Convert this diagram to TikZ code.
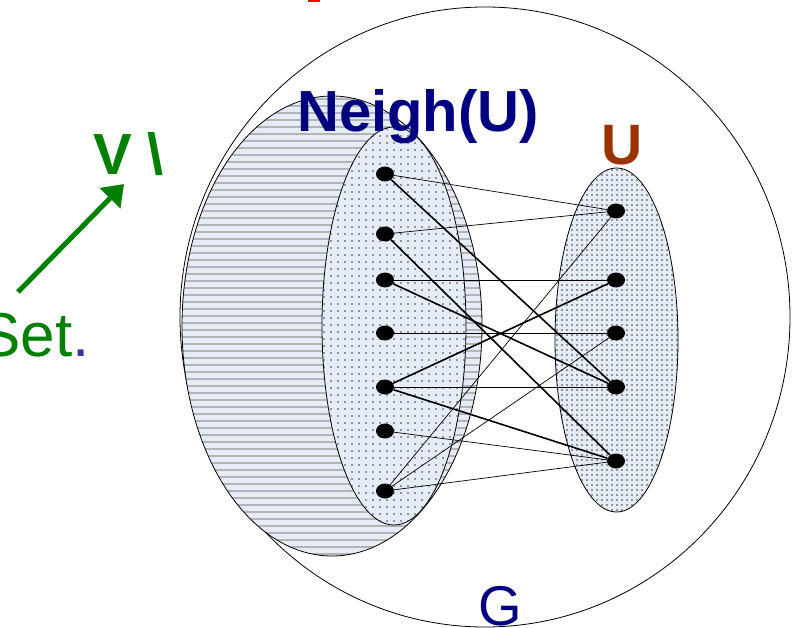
\documentclass[tikz,border=0pt]{standalone}
\usepackage{fontspec}
\setmainfont{Liberation Sans}
\usepackage{tikz}
\usetikzlibrary{positioning,arrows.meta,shapes.geometric}
\definecolor{hallnavy}{HTML}{000080}
\definecolor{hallgreen}{HTML}{008000}
\definecolor{hallbrown}{HTML}{993300}
\definecolor{hallred}{HTML}{FF0000}
\definecolor{halldot}{HTML}{333399}
\definecolor{hallfill}{HTML}{E6ECF7}
\definecolor{hallstripe}{HTML}{B4B4B4}
\definecolor{hallspeck}{HTML}{3C3C3C}

\begin{document}
\begin{tikzpicture}[x=1pt,y=-1pt,
    vtx/.style={ellipse,fill=black,minimum width=18pt,minimum height=15pt,inner sep=0pt},
    thinedge/.style={line width=0.7pt},
    boldedge/.style={line width=1.6pt},
    speck/.style={fill=hallspeck},
    lab/.style={inner sep=0pt,anchor=base west}]
  \clip (0,0) rectangle (794,628);
  \draw[line width=0.8pt] (485,317) ellipse [x radius=305pt,y radius=310pt];

  \fill[hallfill] (332,326) ellipse [x radius=150pt,y radius=230pt];
  \begin{scope}
    \clip (332,326) ellipse [x radius=150pt,y radius=230pt];
    \foreach \y in {99,106,...,556}
      \draw[hallstripe,line width=1.6pt] (180,\y) -- (485,\y);
  \end{scope}
  \draw[line width=0.8pt] (332,326) ellipse [x radius=150pt,y radius=230pt];

  \fill[hallfill] (394,326) ellipse [x radius=72pt,y radius=199pt];
  \begin{scope}
    \clip (394,326) ellipse [x radius=72pt,y radius=199pt];
    \foreach \x in {324,331,...,466}
      \foreach \y in {129,136,...,524}
        \fill[speck] (\x,\y) circle [radius=0.95pt];
  \end{scope}
  \draw[line width=0.8pt] (394,326) ellipse [x radius=72pt,y radius=199pt];

  \fill[hallfill] (616.5,340) ellipse [x radius=61.5pt,y radius=172pt];
  \begin{scope}
    \clip (616.5,340) ellipse [x radius=61.5pt,y radius=172pt];
    \foreach \x in {557,562,...,678}
      \foreach \y in {170,175,...,512}
        \fill[speck] (\x,\y) circle [radius=0.9pt];
  \end{scope}
  \draw[line width=0.8pt] (616.5,340) ellipse [x radius=61.5pt,y radius=172pt];

  \foreach \y [count=\i] in {174,234,280,333,387,431,491}
    \node[vtx] (nb\i) at (385,\y) {};
  \foreach \y [count=\i] in {211,280,333,387,461}
    \node[vtx] (u\i) at (616,\y) {};
  \foreach \a/\b in {1/1,2/1,3/2,4/3,5/4,6/5,7/1,7/3,7/5}
    \draw[thinedge] (nb\a) -- (u\b);
  \foreach \a/\b in {1/4,2/5,3/4,5/2,5/5}
    \draw[boldedge] (nb\a) -- (u\b);

  \node[lab,font=\fontsize{58}{60}\selectfont\bfseries,text=hallnavy] (neighlab) at (297,132) {Neigh(U)};
  \node[lab,font=\fontsize{57}{60}\selectfont\bfseries,text=hallbrown] (ulab) at (601,165) {U};
  \node[lab,font=\fontsize{58}{60}\selectfont\bfseries,text=hallgreen] (vlab) at (93,175) {V \textbackslash};
  \node[lab,font=\fontsize{62}{64}\selectfont,text=hallgreen] (setlab) at (-21,356) {Set{\color{halldot}.}};
  \node[inner sep=0pt,anchor=base,font=\fontsize{56}{58}\selectfont,text=hallnavy] (glab) at (500,625) {G};
  \coordinate (arrtail) at (18,292);
  \coordinate (arrtip) at (124,184);
  \draw[hallgreen,line width=5pt,-{Triangle[length=20pt,width=28pt]}] (arrtail) -- (arrtip);
  \fill[hallred] (308,0) rectangle (320,2.5);
\end{tikzpicture}
\end{document}
